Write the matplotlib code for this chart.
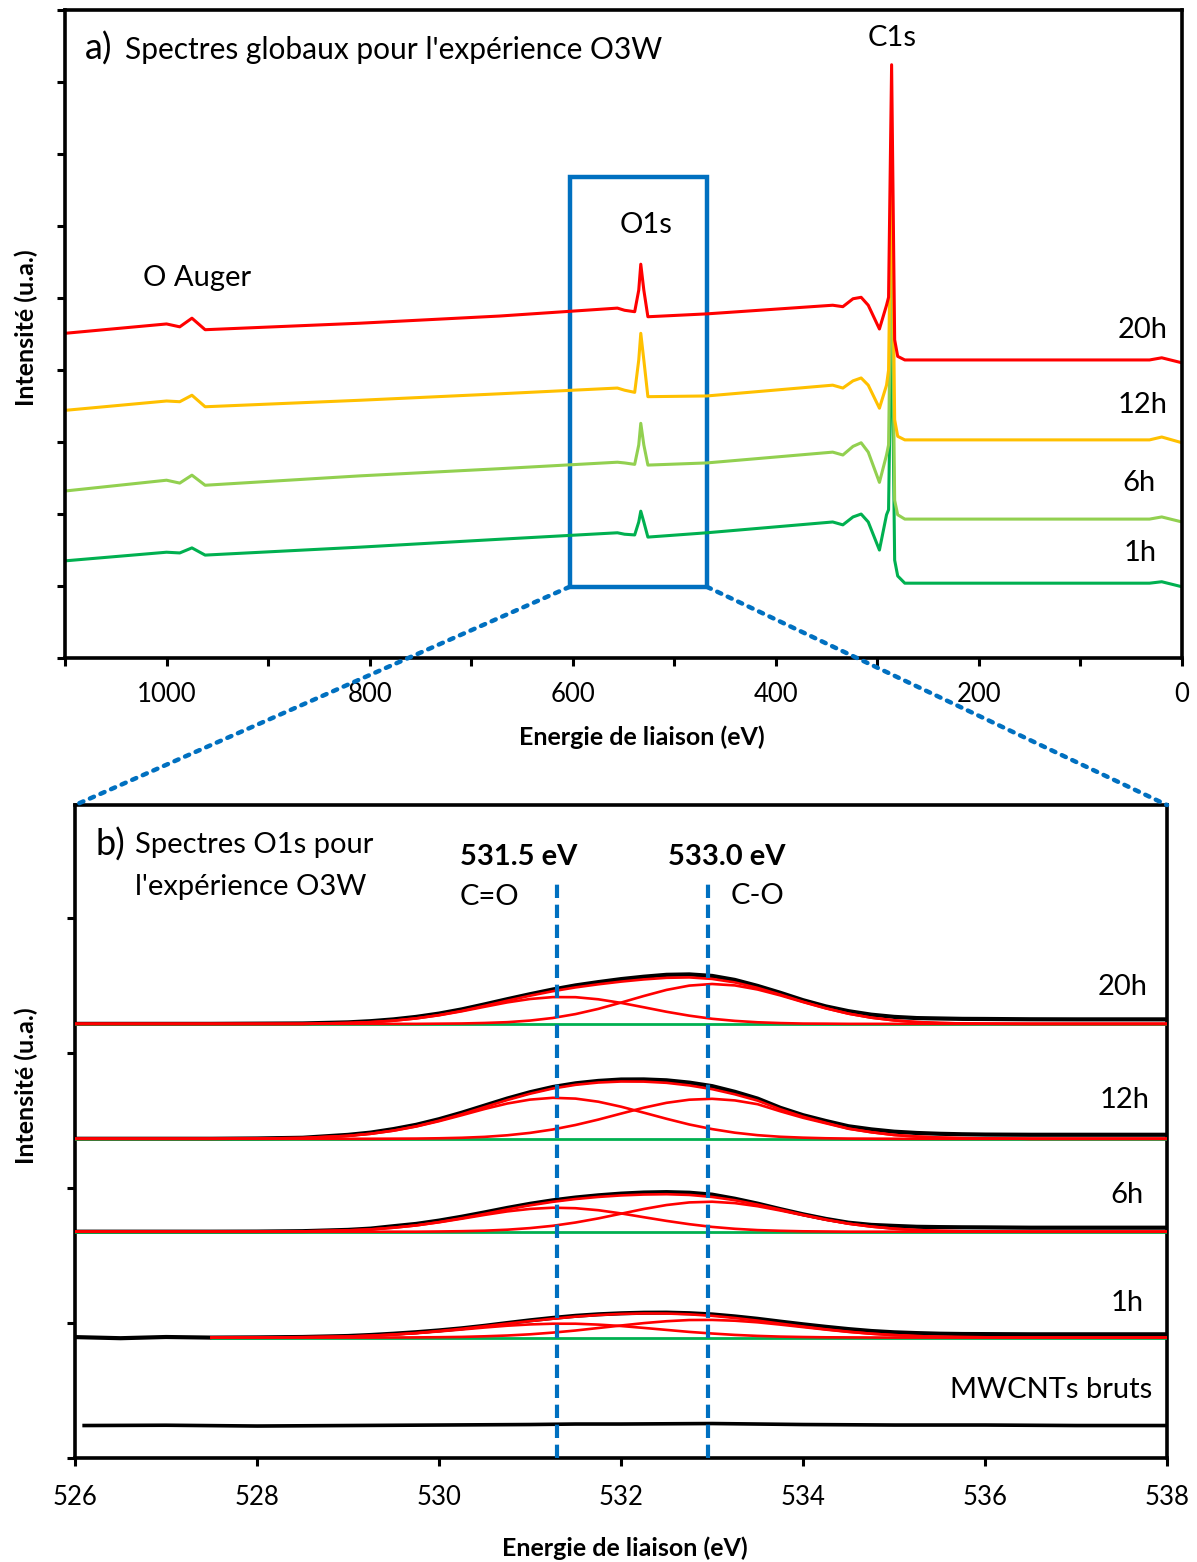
import matplotlib
matplotlib.use("Agg")
import matplotlib.pyplot as plt
from matplotlib.patches import Rectangle, ConnectionPatch

plt.rcParams["font.family"] = ["Lato", "DejaVu Sans"]

# ------------------------------------------------------------
# a) survey spectra (binding energy in eV, intensity in a.u.)
# ------------------------------------------------------------
survey_energy = [1100, 1000, 987, 975, 962, 810, 672, 556, 549, 539, 535, 533, 530, 526,
                 468, 344, 334, 324, 316, 309, 298, 291, 289, 286, 283, 280, 273, 32, 20, 0]
survey_20h = [4.51, 4.64, 4.60, 4.72, 4.56, 4.65, 4.75, 4.86, 4.83, 4.81, 5.11, 5.47, 5.11, 4.74,
              4.78, 4.90, 4.88, 4.99, 5.01, 4.90, 4.57, 4.90, 5.01, 8.24, 4.42, 4.19, 4.14, 4.14, 4.17, 4.10]
survey_12h = [3.44, 3.57, 3.56, 3.65, 3.49, 3.58, 3.67, 3.75, 3.72, 3.69, 4.14, 4.51, 4.14, 3.63,
              3.64, 3.79, 3.75, 3.85, 3.89, 3.79, 3.47, 3.79, 4.00, 7.19, 3.31, 3.08, 3.03, 3.03, 3.07, 2.99]
survey_6h = [2.32, 2.47, 2.43, 2.54, 2.40, 2.53, 2.63, 2.72, 2.71, 2.69, 2.96, 3.26, 2.96, 2.68,
             2.71, 2.86, 2.82, 2.94, 2.99, 2.86, 2.44, 2.82, 2.96, 6.08, 2.19, 1.99, 1.93, 1.93, 1.96, 1.89]
survey_1h = [1.35, 1.47, 1.46, 1.53, 1.43, 1.54, 1.65, 1.74, 1.72, 1.71, 1.89, 2.04, 1.89, 1.68,
             1.74, 1.89, 1.85, 1.96, 2.00, 1.89, 1.50, 1.99, 2.06, 4.97, 1.36, 1.14, 1.04, 1.04, 1.06, 0.99]

survey_colors = ["#00B050", "#92D050", "#FFC000", "#FF0000"]

# zoom window on the O1s region
box_energy = [603, 468]
box_intensity = [0.99, 6.68]

# ------------------------------------------------------------
# b) O1s high resolution spectra
# ------------------------------------------------------------
o1s_energy = [526.0, 526.5, 527.0, 527.5, 528.0, 528.5,
              529.0, 529.25, 529.5, 529.75, 530.0, 530.25, 530.5, 530.75, 531.0, 531.25,
              531.5, 531.75, 532.0, 532.25, 532.5, 532.75, 533.0, 533.25, 533.5, 533.75,
              534.0, 534.25, 534.5, 534.75, 535.0, 535.25, 535.5, 535.75, 536.0,
              536.5, 537.0, 537.5, 538.0]

# heights above each row baseline (a.u.)
raw_20h = [0, 0, 0, 0, 0.2, 0.4,
           1.5, 2.7, 4.5, 7.0, 10.3, 14.5, 19.5, 24.7, 29.7, 34.4,
           38.5, 41.8, 44.8, 47.2, 49.1, 49.5, 48.0, 44.0, 38.0, 31.1,
           23.7, 17.5, 12.7, 9.2, 7.0, 5.8, 5.4, 5.0, 4.9,
           4.6, 4.5, 4.5, 4.5]
fit_20h = [0, 0, 0, 0, 0, 0,
           0.9, 1.7, 3.2, 5.5, 8.8, 13.0, 18.0, 23.2, 28.2, 32.7,
           36.5, 39.6, 42.3, 44.5, 46.1, 46.5, 45.0, 41.5, 36.0, 29.3,
           22.1, 15.7, 10.2, 6.2, 3.5, 1.8, 0.9, 0.4, 0.2,
           0, 0, 0, 0]
co_double_20h = [0, 0, 0, 0, 0, 0,
                 0.9, 1.7, 3.2, 5.5, 8.6, 12.6, 17.1, 21.5, 24.9, 26.8,
                 26.7, 24.6, 21.0, 16.6, 12.1, 8.2, 5.1, 3.0, 1.6, 0.8,
                 0.3, 0.2, 0, 0, 0, 0, 0, 0, 0,
                 0, 0, 0, 0]
co_single_20h = [0, 0, 0, 0, 0, 0,
                 0, 0, 0, 0, 0.2, 0.4, 0.9, 1.7, 3.3, 5.9,
                 9.8, 15.0, 21.3, 27.9, 34.0, 38.3, 39.9, 38.5, 34.4, 28.5,
                 21.8, 15.5, 10.2, 6.2, 3.5, 1.8, 0.9, 0.4, 0.2,
                 0, 0, 0, 0]

raw_12h = [0, 0, 0, 0, 0.3, 1.0,
           3.9, 6.2, 9.7, 14.0, 19.6, 26.1, 33.2, 40.3, 46.6, 51.8,
           55.5, 57.9, 59.3, 59.4, 58.5, 56.2, 52.7, 47.0, 40.2, 31.0,
           23.6, 17.8, 12.5, 9.4, 7.1, 5.8, 5.0, 4.5, 4.2,
           4.0, 4.0, 4.0, 4.0]
fit_12h = [0, 0, 0, 0, 0.2, 0.8,
           2.9, 5.0, 8.2, 12.5, 18.1, 24.6, 31.7, 38.8, 45.1, 50.3,
           54.0, 56.3, 57.3, 57.2, 56.0, 53.4, 49.7, 44.5, 38.2, 29.5,
           22.1, 16.0, 10.2, 6.6, 3.8, 2.2, 1.2, 0.6, 0.4,
           0, 0, 0, 0]
co_double_12h = [0, 0, 0, 0, 0.2, 0.8,
                 2.9, 5.0, 8.1, 12.3, 17.6, 23.6, 29.8, 35.3, 39.2, 41.0,
                 40.2, 37.1, 32.1, 26.1, 20.0, 14.3, 9.7, 6.1, 3.6, 2.0,
                 1.1, 0.5, 0.2, 0.1, 0, 0, 0, 0, 0,
                 0, 0, 0, 0]
co_single_12h = [0, 0, 0, 0, 0, 0,
                 0, 0, 0.1, 0.2, 0.5, 1.0, 1.9, 3.5, 5.9, 9.3,
                 13.8, 19.2, 25.2, 31.1, 36.0, 39.1, 40.0, 38.4, 34.6, 27.5,
                 21.0, 15.5, 10.0, 6.5, 3.8, 2.2, 1.2, 0.6, 0.4,
                 0, 0, 0, 0]

raw_6h = [0, 0, 0, 0, 0.1, 0.5,
          1.8, 3.1, 5.5, 7.8, 11.1, 15.0, 19.3, 23.8, 27.9, 31.4,
          34.2, 36.4, 38.1, 39.2, 39.6, 39.0, 37.1, 33.0, 28.1, 22.6,
          17.4, 12.8, 9.0, 6.8, 5.8, 4.9, 4.6, 4.4, 4.3,
          4.0, 4.0, 4.0, 4.0]
fit_6h = [0, 0, 0, 0, 0, 0.3,
          1.3, 2.3, 4.0, 6.3, 9.6, 13.5, 17.8, 22.3, 26.4, 29.9,
          32.7, 34.8, 36.3, 37.2, 37.5, 36.8, 34.8, 31.5, 27.1, 22.1,
          16.9, 12.1, 8.0, 5.1, 3.0, 1.6, 0.8, 0.4, 0.2,
          0, 0, 0, 0]
co_double_6h = [0, 0, 0, 0, 0, 0.3,
                1.3, 2.3, 4.0, 6.3, 9.4, 13.0, 16.8, 20.3, 22.8, 24.0,
                23.5, 21.5, 18.3, 14.5, 10.8, 7.5, 4.8, 2.9, 1.6, 0.9,
                0.4, 0.2, 0, 0, 0, 0, 0, 0, 0,
                0, 0, 0, 0]
co_single_6h = [0, 0, 0, 0, 0, 0,
                0, 0, 0, 0, 0.2, 0.5, 1.0, 2.0, 3.6, 5.9,
                9.2, 13.3, 18.0, 22.7, 26.7, 29.3, 30.0, 28.6, 25.5, 21.2,
                16.5, 11.9, 8.0, 5.1, 3.0, 1.6, 0.8, 0.4, 0.2,
                0, 0, 0, 0]

raw_1h = [0.5, -0.6, 0.6, 0, 0.2, 0.6,
          1.6, 2.6, 3.9, 5.4, 7.2, 9.3, 11.8, 14.6, 17.3, 19.7,
          21.8, 23.3, 24.3, 24.9, 25.0, 24.4, 23.2, 21.2, 18.8, 16.0,
          13.3, 10.8, 8.5, 6.6, 5.3, 4.5, 3.9, 3.6, 3.5,
          3.3, 3.3, 3.3, 3.3]
fit_1h = [0, 0, 0, 0, 0.1, 0.4,
          1.1, 1.9, 3.1, 4.6, 6.6, 8.8, 11.4, 14.0, 16.5, 18.9,
          21.0, 22.6, 23.7, 24.2, 24.1, 23.3, 21.8, 19.6, 17.0, 14.0,
          11.1, 8.3, 5.9, 3.9, 2.5, 1.5, 0.8, 0.5, 0.3,
          0, 0, 0, 0]
co_double_1h = [0, 0, 0, 0, 0.1, 0.4,
                1.1, 1.9, 3.0, 4.4, 6.2, 8.1, 10.1, 11.9, 13.2, 13.9,
                13.9, 13.0, 11.6, 9.7, 7.7, 5.7, 4.1, 2.7, 1.7, 1.0,
                0.6, 0.3, 0.2, 0.1, 0, 0, 0, 0, 0,
                0, 0, 0, 0]
co_single_1h = [0, 0, 0, 0, 0, 0,
                0, 0, 0.1, 0.2, 0.4, 0.7, 1.3, 2.1, 3.3, 5.0,
                7.1, 9.6, 12.1, 14.5, 16.4, 17.6, 17.7, 16.9, 15.3, 13.0,
                10.5, 8.0, 5.7, 3.9, 2.5, 1.5, 0.8, 0.5, 0.3,
                0, 0, 0, 0]

row_labels = ["20h", "12h", "6h", "1h"]
row_offsets = [434, 319, 226, 120]
fit_start = [526.0, 526.0, 526.0, 527.5]

mwcnt_energy = [526.1, 527, 528, 529, 530, 531, 531.5, 532, 533, 534, 535, 536, 537, 538]
mwcnt_raw = [32, 32.3, 31.5, 32, 32.5, 33, 33.5, 33.5, 34, 33, 32.5, 32.5, 32, 32]

peak_positions = [531.3, 532.96]
peak_energy_text = ["531.5 eV", "533.0 eV"]
peak_bond_text = ["C=O", "C-O"]

BLUE = "#0070C0"

fig = plt.figure(figsize=(11.97, 15.62), dpi=100)

# ---------------- panel a ----------------
ax1 = fig.add_axes([0.0543, 0.5787, 0.9332, 0.4149])
for series, color in zip([survey_1h, survey_6h, survey_12h, survey_20h], survey_colors):
    ax1.plot(survey_energy, series, color=color, lw=2.2, solid_joinstyle="round")

ax1.set_xlim(1100, 0)
ax1.set_ylim(0, 9)
ax1.set_xticks(range(0, 1101, 100))
ax1.set_xticklabels([str(v) if v % 200 == 0 else "" for v in range(0, 1101, 100)])
ax1.set_yticks(range(0, 10))
ax1.set_yticklabels([])

ax1.add_patch(Rectangle((box_energy[1], box_intensity[0]), box_energy[0] - box_energy[1],
                        box_intensity[1] - box_intensity[0], fill=False, ec=BLUE, lw=3.2))

ax1.text(1080, 8.47, "a)", fontsize=26, va="center", ha="left")
ax1.text(1041, 8.44, "Spectres globaux pour l'expérience O3W", fontsize=21.5, va="center", ha="left")
ax1.text(970, 5.28, "O Auger", fontsize=21, va="center", ha="center")
ax1.text(528, 6.01, "O1s", fontsize=21, va="center", ha="center")
ax1.text(285, 8.61, "C1s", fontsize=21, va="center", ha="center")
for lab, xx, yy in zip(["20h", "12h", "6h", "1h"], [14, 14, 26, 25], [4.56, 3.51, 2.43, 1.46]):
    ax1.text(xx, yy, lab, fontsize=21, va="center", ha="right")

ax1.set_xlabel("Energie de liaison (eV)", fontsize=18, fontweight="bold")
ax1.xaxis.set_label_coords(0.5166, -0.104)
ax1.set_ylabel("Intensité (u.a.)", fontsize=18, fontweight="bold")
ax1.yaxis.set_label_coords(-0.024, 0.51)

# ---------------- panel b ----------------
ax2 = fig.add_axes([0.0627, 0.0669, 0.9123, 0.4177])

rows = [
    (raw_20h, fit_20h, co_double_20h, co_single_20h),
    (raw_12h, fit_12h, co_double_12h, co_single_12h),
    (raw_6h, fit_6h, co_double_6h, co_single_6h),
    (raw_1h, fit_1h, co_double_1h, co_single_1h),
]
for (raw, fit, c1, c2), off, start in zip(rows, row_offsets, fit_start):
    ax2.plot(o1s_energy, [off + v for v in raw], color="black", lw=3.0, zorder=2,
             solid_joinstyle="round")
    sel = [i for i, e in enumerate(o1s_energy) if e >= start]
    e_fit = [o1s_energy[i] for i in sel]
    ax2.plot([e_fit[0], e_fit[-1]], [off, off], color="#00B050", lw=2.0, zorder=3)
    for comp in (c1, c2, fit):
        ax2.plot(e_fit, [off + comp[i] for i in sel], color="#FF0000", lw=1.9, zorder=4,
                 solid_joinstyle="round")

ax2.plot(mwcnt_energy, mwcnt_raw, color="black", lw=2.6, zorder=2)

for pos in peak_positions:
    ax2.axvline(pos, ymin=0, ymax=578 / 653, color=BLUE, lw=3, linestyle=(0, (3.2, 1.6)), zorder=5)

ax2.text(530.23, 601, peak_energy_text[0], fontsize=21, fontweight="bold", va="center", ha="left")
ax2.text(530.23, 561, peak_bond_text[0], fontsize=21, va="center", ha="left")
ax2.text(532.52, 601, peak_energy_text[1], fontsize=21, fontweight="bold", va="center", ha="left")
ax2.text(533.8, 562, peak_bond_text[1], fontsize=21, va="center", ha="right")

ax2.text(526.22, 613, "b)", fontsize=26, va="center", ha="left")
ax2.text(526.66, 613, "Spectres O1s pour", fontsize=21, va="center", ha="left")
ax2.text(526.66, 571, "l'expérience O3W", fontsize=21, va="center", ha="left")

for lab, xx, yy in zip(row_labels, [537.79, 537.81, 537.74, 537.74], [471, 358, 263, 155]):
    ax2.text(xx, yy, lab, fontsize=21, va="center", ha="right")
ax2.text(537.84, 68, "MWCNTs bruts", fontsize=21, va="center", ha="right")

ax2.set_xlim(526, 538)
ax2.set_ylim(0, 653)
ax2.set_xticks(range(526, 539, 2))
ax2.set_yticks([0, 135, 270, 405, 540])
ax2.set_yticklabels([])

ax2.set_xlabel("Energie de liaison (eV)", fontsize=18, fontweight="bold")
ax2.xaxis.set_label_coords(0.5037, -0.121)
ax2.set_ylabel("Intensité (u.a.)", fontsize=18, fontweight="bold")
ax2.yaxis.set_label_coords(-0.034, 0.57)

for ax in (ax1, ax2):
    for sp in ax.spines.values():
        sp.set_linewidth(2.6)
    ax.tick_params(direction="out", length=6, width=2.2, labelsize=18.5, pad=11)
ax2.tick_params(axis="x", pad=14)

# dotted zoom guides
for xa, xb in [(box_energy[0], 0), (box_energy[1], 1)]:
    cp = ConnectionPatch(xyA=(xa, box_intensity[0]), coordsA=ax1.transData,
                         xyB=(xb, 1), coordsB=ax2.transAxes,
                         color=BLUE, lw=3.2, linestyle=(0, (1, 1.6)))
    fig.add_artist(cp)

fig.savefig("out.png", dpi=100)
